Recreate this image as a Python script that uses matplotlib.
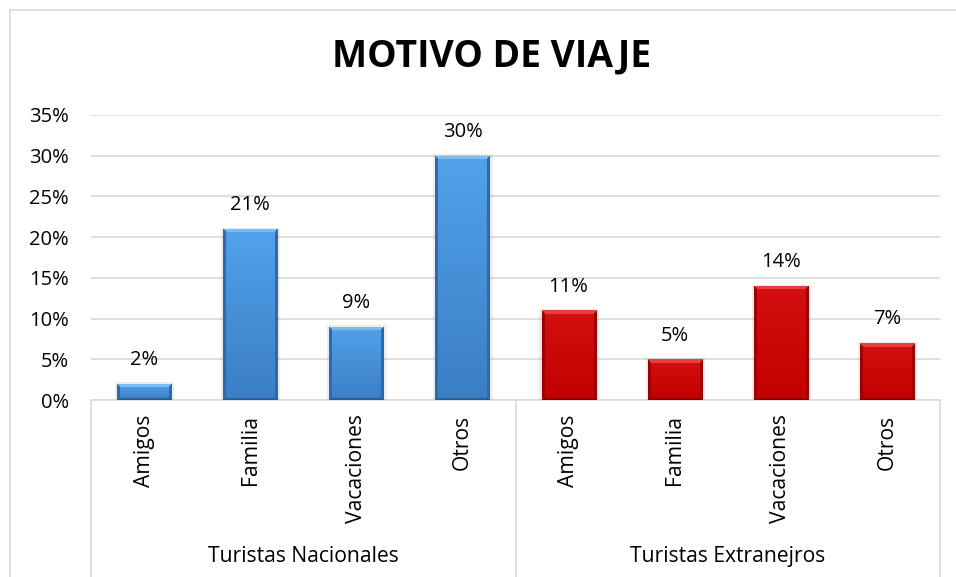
import numpy as np
import matplotlib
matplotlib.use("Agg")
import matplotlib.pyplot as plt
from matplotlib.colors import to_rgb
from matplotlib.patches import Rectangle

# ---------------- data ----------------
groups = ["Turistas Nacionales", "Turistas Extranejros"]
categories = ["Amigos", "Familia", "Vacaciones", "Otros"]
nacionales = [0.02, 0.21, 0.09, 0.30]
extranjeros = [0.11, 0.05, 0.14, 0.07]
value_labels_nac = ["2%", "21%", "9%", "30%"]
value_labels_ext = ["11%", "5%", "14%", "7%"]
yticks = [0.00, 0.05, 0.10, 0.15, 0.20, 0.25, 0.30, 0.35]
ytick_labels = ["0%", "5%", "10%", "15%", "20%", "25%", "30%", "35%"]
title = "MOTIVO DE VIAJE"

plt.rcParams["font.family"] = ["Open Sans", "DejaVu Sans"]

W, H = 956, 577
fig = plt.figure(figsize=(W / 100, H / 100), dpi=100)
ax = fig.add_axes([91 / W, 1 - 400 / H, (940 - 91) / W, 285 / H])

n = len(categories)
values = list(nacionales) + list(extranjeros)
labels = list(value_labels_nac) + list(value_labels_ext)
xpos = np.arange(2 * n) + 0.5
colors = ["#4690db"] * n + ["#cc0505"] * n
# bevel styles: (top colour, bottom colour, bevel-top, side, bottom edge)
styles = {
    "#4690db": ("#52a2ea", "#3a7ec6", "#78bdf2", "#2f6aa6", "#2a5d94"),
    "#cc0505": ("#d40f0f", "#c20000", "#e44040", "#a00000", "#8c0000"),
}
ax.set_xlim(0, 2 * n)
ax.set_ylim(yticks[0], yticks[-1])

bars = ax.bar(xpos, values, width=0.51, color=colors, zorder=3, linewidth=0)


def bevel_image(style, wpx, hpx, bt=4, bs=3, bb=2):
    ctop, cbot, clight, cside, cbottom = [np.array(to_rgb(c)) for c in style]
    wpx = max(int(round(wpx)), 2)
    hpx = max(int(round(hpx)), 2)
    yy, xx = np.mgrid[0:hpx, 0:wpx]
    t = (yy / max(hpx - 1, 1))[..., None]
    img = ctop[None, None, :] * (1 - t) + cbot[None, None, :] * t
    dl = xx
    dr = wpx - 1 - xx
    dt = yy
    db = hpx - 1 - yy
    side = np.minimum(dl, dr)
    top = (dt < bt) & (dt * bs <= side * bt)
    bot = (db < bb) & (db * bs < side * bb) & ~top
    sides = (side < bs) & ~top & ~bot
    img[sides] = cside
    img[bot] = cbottom
    img[top] = clight
    return img


fig.canvas.draw()
to_px = ax.transData
for rect, col in zip(bars, colors):
    x0, y0 = rect.get_x(), rect.get_y()
    x1, y1 = x0 + rect.get_width(), y0 + rect.get_height()
    (px0, py0), (px1, py1) = to_px.transform([(x0, y0), (x1, y1)])
    img = bevel_image(styles[col], px1 - px0, py1 - py0)
    im = ax.imshow(img, extent=[x0, x1, y0, y1], aspect="auto",
                   origin="upper", zorder=3.5, interpolation="nearest")
    im.set_clip_path(rect)
    # faint shadow
    ax.add_patch(Rectangle((x0 - 0.02, y0), rect.get_width() + 0.05,
                           rect.get_height() + 0.0015,
                           facecolor="#000000", alpha=0.07, zorder=2.9, linewidth=0))

for x, v, lab in zip(xpos, values, labels):
    ax.annotate(lab, xy=(x, v), xytext=(0, 17), textcoords="offset points",
                ha="center", va="center", fontsize=14.5, color="#000000")

# grid & spines
ax.set_yticks(yticks)
ax.set_yticklabels(ytick_labels, fontsize=14.5)
ax.tick_params(axis="y", length=0, pad=16)
ax.set_xticks([])
ax.yaxis.grid(True, color="#d9d9d9", linewidth=1.2, zorder=0)
ax.set_axisbelow(True)
for s in ["top", "right", "left"]:
    ax.spines[s].set_visible(False)
ax.spines["bottom"].set_color("#d9d9d9")
ax.spines["bottom"].set_linewidth(1.2)

# category labels
for x, cat in zip(xpos, categories * 2):
    ax.annotate(cat, xy=(x, 0), xycoords=("data", "axes fraction"),
                xytext=(0, -10.5), textcoords="offset points", rotation=90,
                ha="center", va="top", fontsize=15.2, color="#000000")

# group separators and labels
xt = ax.get_xaxis_transform()
for xs in [0, n, 2 * n]:
    ax.plot([xs, xs], [0, -0.7], transform=xt, color="#d9d9d9", lw=1.2,
            clip_on=False, zorder=1)
for gi, g in enumerate(groups):
    ax.annotate(g, xy=(gi * n + n / 2, 0), xycoords=("data", "axes fraction"),
                xytext=(0, -113), textcoords="offset points",
                ha="center", va="center", fontsize=15.2, color="#000000")

# chart border
fig.patches.append(Rectangle((10 / W, -0.2), 1.2, 1.2 - 10 / H, transform=fig.transFigure,
                             fill=False, edgecolor="#d9d9d9", linewidth=1.2))

fig.text(491.5 / W, 1 - 56 / H, title, ha="center", va="center",
         fontsize=26.8, fontweight="bold", color="#000000")

fig.savefig("out.png", dpi=100)
